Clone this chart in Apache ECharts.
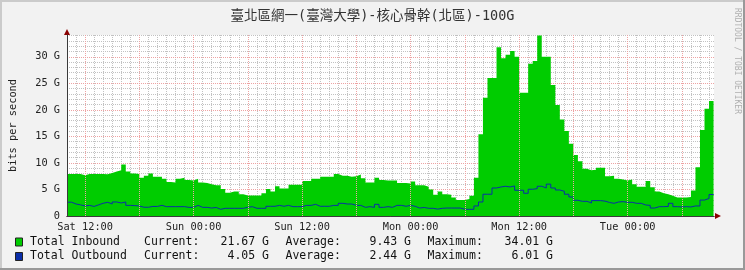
<!DOCTYPE html>
<html><head><meta charset="utf-8">
<script src="https://cdn.jsdelivr.net/npm/echarts@6/dist/echarts.min.js"></script>
<style>html,body{margin:0;padding:0;background:#f2f2f2}#c{width:745px;height:270px}</style>
</head><body><div id="c"></div><script>
const titleText = '臺北區網一(臺灣大學)-核心骨幹(北區)-100G';
const yAxisName = 'bits per second';
const watermark = 'RRDTOOL / TOBI OETIKER';
const dayNames = ['Sat', 'Sun', 'Mon', 'Tue'];
const startHour = 10;      // Sat 10:00, hours since Sat 00:00
const stepHours = 0.5;
const xMax = 81.55;
const yMax = 34.1;
const majorGridHours = [12, 18, 24, 30, 36, 42, 48, 54, 60, 66, 72, 78];
const seriesNames = ['Total Inbound', 'Total Outbound'];
const statLabels = ['Current:', 'Average:', 'Maximum:'];
const inboundStats = ['21.67 G', '9.43 G', '34.01 G'];
const outboundStats = ['4.05 G', '2.44 G', '6.01 G'];

const inbound = [
  7.9, 7.9, 7.9, 7.7, 7.9, 7.9, 7.9, 7.9, 7.85, 8.1,
  8.4, 8.6, 9.7, 8.4, 8.0, 7.9, 7.2, 7.6, 8.0, 7.4,
  7.4, 7.0, 6.4, 6.3, 7.0, 7.2, 6.8, 6.7, 7.0, 6.3,
  6.2, 6.0, 5.8, 5.8, 5.1, 4.4, 4.6, 4.6, 4.1, 3.85,
  3.85, 3.85, 3.85, 4.3, 5.1, 4.6, 5.6, 5.2, 5.2, 5.9,
  5.9, 5.9, 6.6, 6.6, 7.0, 7.0, 7.4, 7.4, 7.4, 7.9,
  7.6, 7.6, 7.4, 7.5, 7.8, 7.1, 6.3, 6.3, 7.2, 6.8,
  6.7, 6.7, 6.7, 6.2, 6.2, 6.1, 6.5, 5.8, 5.8, 5.5,
  5.0, 4.0, 4.6, 4.1, 4.0, 3.5, 3.0, 3.0, 3.2, 3.8,
  7.2, 15.4, 22.3, 26.0, 26.0, 31.8, 29.7, 30.4, 31.1, 30.0,
  23.2, 23.2, 28.7, 29.2, 34.0, 30.0, 30.0, 24.7, 20.9, 18.2,
  16.0, 13.6, 11.5, 10.3, 8.9, 8.6, 8.7, 9.1, 9.1, 7.5,
  7.6, 7.0, 6.9, 6.7, 6.9, 6.0, 5.5, 5.5, 6.6, 5.4,
  4.6, 4.3, 4.1, 3.8, 3.5, 3.5, 3.5, 3.6, 4.8, 9.2,
  16.2, 20.2, 21.67
];
const outbound = [
  2.6, 2.26, 2.1, 1.9, 2.0, 1.8, 2.1, 2.4, 2.58, 2.26,
  2.64, 2.45, 2.64, 2.0, 1.95, 1.9, 1.65, 1.65, 1.8, 1.8,
  2.0, 1.76, 1.76, 1.76, 1.76, 1.76, 1.63, 1.63, 2.0, 1.63,
  1.63, 1.5, 1.6, 1.26, 1.45, 1.45, 1.45, 1.45, 1.45, 1.63,
  1.76, 1.45, 1.45, 1.45, 1.83, 1.83, 2.0, 1.83, 2.0, 1.76,
  1.76, 1.76, 2.0, 2.0, 2.2, 1.83, 1.83, 1.83, 2.0, 2.0,
  2.39, 2.26, 2.26, 2.0, 2.0, 1.63, 1.76, 1.63, 2.2, 1.63,
  1.76, 1.63, 2.0, 2.0, 1.83, 2.0, 1.83, 1.5, 1.6, 1.45,
  1.45, 1.3, 1.45, 1.5, 1.5, 1.5, 1.5, 1.26, 1.26, 1.26,
  1.89, 2.64, 4.1, 4.1, 5.28, 5.47, 5.6, 5.47, 5.66, 4.85,
  4.85, 4.28, 5.04, 5.15, 5.6, 5.28, 6.0, 5.28, 4.9, 4.66,
  4.1, 3.58, 2.96, 2.77, 2.77, 2.45, 2.9, 2.9, 2.8, 2.55,
  2.39, 2.64, 2.7, 2.58, 2.58, 2.39, 2.39, 2.07, 2.0, 1.5,
  1.76, 1.76, 1.8, 2.39, 1.76, 1.7, 1.76, 1.7, 1.89, 1.89,
  3.0, 3.3, 4.05
];

function toPoints(vals) {
  const pts = vals.map((v, i) => [startHour + i * stepHours, v]);
  pts.push([startHour + vals.length * stepHours, vals[vals.length - 1]]);
  return pts;
}

const MONO = "'DejaVu Sans Mono', monospace";
const minorColor = '#c2c2c2';
const majorColor = '#eea3a3';
const axisDark = '#3a3a3a';
const arrowRed = '#8b0000';

function xLabel(v) {
  if (Math.abs(v % 12) > 1e-6) return '';
  const d = Math.floor(v / 24);
  const h = v % 24;
  return dayNames[d] + ' ' + String(h).padStart(2, '0') + ':00';
}
function yLabel(v) {
  if (Math.abs(v % 5) > 1e-6) return '';
  return v === 0 ? '0' : v + ' G';
}

const hidden = { axisTick: { show: false }, axisLabel: { show: false }, splitLine: { show: false } };
const xBase = { type: 'value', min: startHour, max: xMax, position: 'bottom' };
const yBase = { type: 'value', min: 0, max: yMax, position: 'left' };

const legendGraphics = [];
const rows = [
  { name: seriesNames[0], stats: inboundStats, color: '#00cc00', y: 242 },
  { name: seriesNames[1], stats: outboundStats, color: '#0a2ea8', y: 256.5 }
];
const statX = [[144, 269], [285.5, 411], [427.5, 553]];
rows.forEach(r => {
  legendGraphics.push({ type: 'rect', shape: { x: 15.5, y: r.y - 4, width: 7, height: 8 },
    style: { fill: r.color, stroke: '#222', lineWidth: 1 } });
  legendGraphics.push({ type: 'text', x: 30, y: r.y,
    style: { text: r.name, font: '11.5px ' + MONO, fill: '#111', textAlign: 'left', textVerticalAlign: 'middle' } });
  statLabels.forEach((lab, k) => {
    legendGraphics.push({ type: 'text', x: statX[k][0], y: r.y,
      style: { text: lab, font: '11.5px ' + MONO, fill: '#111', textAlign: 'left', textVerticalAlign: 'middle' } });
    legendGraphics.push({ type: 'text', x: statX[k][1], y: r.y,
      style: { text: r.stats[k], font: '11.5px ' + MONO, fill: '#111', textAlign: 'right', textVerticalAlign: 'middle' } });
  });
});

const chart = echarts.init(document.getElementById('c'), null, { renderer: 'canvas' });
chart.setOption({
  animation: false,
  backgroundColor: '#f2f2f2',
  title: {
    text: titleText, left: 'center', top: 5,
    textStyle: { fontFamily: "'DejaVu Sans Mono', 'Noto Sans CJK TC', sans-serif", fontSize: 13.5, fontWeight: 'normal', color: '#333' }
  },
  grid: { left: 65, right: 31, top: 35, bottom: 54, show: true, backgroundColor: '#ffffff', borderWidth: 0 },
  xAxis: [
    Object.assign({}, xBase, {
      interval: 1, z: 0,
      axisLine: { show: false }, axisTick: { show: false },
      splitLine: { show: true, showMinLine: false, showMaxLine: false, lineStyle: { color: minorColor, type: [1, 1], width: 1 } },
      axisLabel: { formatter: xLabel, margin: 6, fontFamily: MONO, fontSize: 10.3, color: '#222' }
    }),
    Object.assign({}, xBase, hidden, {
      z: 4,
      axisLine: { show: true, onZero: false, symbol: ['none', 'triangle'], symbolSize: [6, 6], symbolOffset: [0, 4], lineStyle: { color: arrowRed, width: 1 } }
    }),
    Object.assign({}, xBase, hidden, {
      z: 5,
      axisLine: { show: true, onZero: false, lineStyle: { color: axisDark, width: 1 } }
    })
  ],
  yAxis: [
    Object.assign({}, yBase, hidden, {
      interval: 1, z: 0,
      axisLine: { show: false },
      splitLine: { show: true, showMinLine: false, showMaxLine: false, lineStyle: { color: minorColor, type: [1, 1], width: 1 } }
    }),
    Object.assign({}, yBase, {
      interval: 5, z: 1,
      axisLine: { show: false }, axisTick: { show: false },
      splitLine: { show: true, showMinLine: false, showMaxLine: false, lineStyle: { color: majorColor, type: [1, 1], width: 1 } },
      axisLabel: { formatter: yLabel, margin: 7, fontFamily: MONO, fontSize: 10.3, color: '#222' },
      name: yAxisName, nameLocation: 'middle', nameGap: 49, nameRotate: 90,
      nameTextStyle: { fontFamily: MONO, fontSize: 10.3, color: '#222' }
    }),
    Object.assign({}, yBase, hidden, {
      z: 4,
      axisLine: { show: true, onZero: false, symbol: ['none', 'triangle'], symbolSize: [6, 6], symbolOffset: [0, 3], lineStyle: { color: arrowRed, width: 1 } }
    }),
    Object.assign({}, yBase, hidden, {
      z: 5,
      axisLine: { show: true, onZero: false, lineStyle: { color: axisDark, width: 1 } }
    })
  ],
  series: [
    {
      type: 'line', data: [], z: 1, silent: true,
      markLine: {
        silent: true, symbol: 'none', label: { show: false }, animation: false,
        lineStyle: { color: majorColor, type: [1, 1], width: 1 },
        data: majorGridHours.map(h => ({ xAxis: h }))
      }
    },
    {
      name: seriesNames[0], type: 'line', step: 'end', symbol: 'none', silent: true, z: 2,
      data: toPoints(inbound),
      lineStyle: { width: 0, color: '#00cc00' },
      areaStyle: { color: '#00cc00', opacity: 1 }
    },
    {
      name: seriesNames[1], type: 'line', step: 'end', symbol: 'none', silent: true, z: 3,
      data: toPoints(outbound),
      lineStyle: { width: 1, color: '#0a2ea8' }
    }
  ],
  graphic: [
    { type: 'rect', shape: { x: 0, y: 0, width: 745, height: 2 }, style: { fill: '#cbcbcb' } },
    { type: 'rect', shape: { x: 0, y: 0, width: 2, height: 270 }, style: { fill: '#cbcbcb' } },
    { type: 'rect', shape: { x: 743, y: 0, width: 2, height: 270 }, style: { fill: '#999999' } },
    { type: 'rect', shape: { x: 0, y: 268, width: 745, height: 2 }, style: { fill: '#999999' } },
    { type: 'text', x: 737, y: 61, rotation: -Math.PI / 2,
      style: { text: watermark, font: '8px ' + MONO, fill: '#b0b0b0', textAlign: 'center', textVerticalAlign: 'middle' } }
  ].concat(legendGraphics)
});
</script></body></html>
